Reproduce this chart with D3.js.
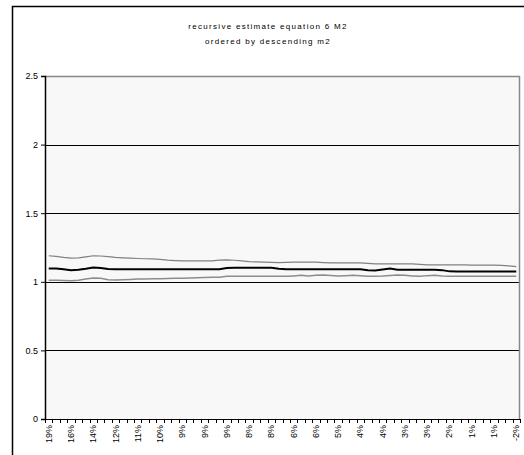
<!DOCTYPE html>
<html><head><meta charset="utf-8">
<script src="https://cdn.jsdelivr.net/npm/d3@7"></script>
<style>body{margin:0;background:#fff;font-family:"Liberation Sans",Arial,sans-serif;}</style>
</head><body><svg id="c" width="524" height="455"></svg>
<script>
const titleLines = ["recursive estimate equation 6 M2", "ordered by descending m2"];
const tickLabels = ["19%","16%","14%","12%","11%","10%","9%","9%","9%","8%","8%","6%","6%","5%","4%","4%","3%","3%","2%","1%","1%","-2%"];
const yTicks = [0, 0.5, 1, 1.5, 2, 2.5];
const upper = [1.19,1.185,1.178,1.173,1.175,1.182,1.19,1.188,1.183,1.178,1.175,1.172,1.17,1.168,1.167,1.163,1.158,1.155,1.153,1.153,1.153,1.153,1.153,1.158,1.16,1.157,1.152,1.147,1.145,1.143,1.142,1.14,1.142,1.143,1.143,1.143,1.143,1.14,1.138,1.138,1.138,1.138,1.138,1.135,1.131,1.131,1.131,1.131,1.131,1.131,1.127,1.124,1.124,1.124,1.124,1.124,1.124,1.122,1.122,1.122,1.122,1.12,1.116,1.111];
const middle = [1.097,1.097,1.092,1.085,1.088,1.095,1.104,1.1,1.093,1.092,1.092,1.092,1.092,1.092,1.092,1.092,1.092,1.092,1.092,1.092,1.092,1.092,1.092,1.092,1.1,1.102,1.102,1.102,1.102,1.102,1.102,1.095,1.092,1.092,1.092,1.092,1.092,1.092,1.092,1.092,1.092,1.092,1.092,1.085,1.083,1.09,1.097,1.088,1.087,1.087,1.087,1.087,1.087,1.085,1.076,1.075,1.075,1.075,1.075,1.075,1.075,1.075,1.075,1.075];
const lower = [1.012,1.012,1.01,1.008,1.012,1.02,1.027,1.025,1.015,1.013,1.015,1.017,1.02,1.021,1.022,1.023,1.024,1.025,1.026,1.027,1.029,1.031,1.033,1.034,1.04,1.041,1.041,1.041,1.041,1.041,1.041,1.04,1.04,1.043,1.047,1.043,1.048,1.05,1.046,1.043,1.045,1.048,1.044,1.04,1.04,1.042,1.046,1.05,1.047,1.043,1.04,1.045,1.047,1.042,1.04,1.04,1.04,1.04,1.04,1.04,1.04,1.04,1.04,1.04];

const svg = d3.select("#c");
const L = 45, R = 520, T = 76, B = 419;
const n = upper.length;
const idx = d3.range(n);
const x = d3.scaleBand().domain(idx).range([L, R]);
const y = d3.scaleLinear().domain([0, 2.5]).range([B, T]);

// outer chart border
svg.append("rect").attr("x", 12.5).attr("y", 6.5).attr("width", 530).attr("height", 470)
  .attr("fill", "#fff").attr("stroke", "#000").attr("stroke-width", 1.5);

// titles
svg.selectAll("text.title").data(titleLines).enter().append("text")
  .attr("class", "title").attr("x", 268).attr("y", (d, i) => 29 + i * 15)
  .attr("text-anchor", "middle").attr("font-size", 8).attr("letter-spacing", 1.3)
  .attr("fill", "#000").text(d => d);

// plot background
svg.append("rect").attr("x", L).attr("y", T).attr("width", R - L).attr("height", B - T)
  .attr("fill", "#f8f8f8");

// gridlines
svg.append("g").selectAll("line").data(yTicks.filter(v => v > 0 && v < 2.5)).enter().append("line")
  .attr("x1", L).attr("x2", R).attr("y1", d => Math.round(y(d)) + 0.5).attr("y2", d => Math.round(y(d)) + 0.5)
  .attr("stroke", "#000").attr("stroke-width", 1);

// plot border top / right (gray)
svg.append("path").attr("d", `M${L},${T + 0.5}H${R - 0.5}V${B}`).attr("fill", "none")
  .attr("stroke", "#888").attr("stroke-width", 1.5);

// y axis
const yAxis = d3.axisLeft(y).tickValues(yTicks).tickSize(4).tickPadding(3)
  .tickFormat(d => d === 0 ? "0" : String(d));
const gy = svg.append("g").attr("transform", `translate(${L},0)`).call(yAxis);
gy.select(".domain").attr("stroke", "#000").attr("stroke-width", 1.5);
gy.selectAll("text").attr("font-size", 9).attr("font-family", "Liberation Sans, Arial, sans-serif").attr("fill", "#000");

// x axis with ticks between categories
const xTickScale = d3.scaleLinear().domain([0, n]).range([L, R]);
const gx = svg.append("g").attr("transform", `translate(0,${B})`);
gx.append("line").attr("x1", L).attr("x2", R).attr("y1", 0.5).attr("y2", 0.5).attr("stroke", "#000").attr("stroke-width", 1.2);
gx.selectAll("line.tk").data(d3.range(n + 1)).enter().append("line").attr("class", "tk")
  .attr("x1", d => Math.round(xTickScale(d)) + 0.5).attr("x2", d => Math.round(xTickScale(d)) + 0.5)
  .attr("y1", 0).attr("y2", 4).attr("stroke", "#000");
gx.selectAll("text").data(tickLabels).enter().append("text")
  .attr("transform", (d, i) => `translate(${x(i * 3) + x.bandwidth() / 2 + 3},6) rotate(-90)`)
  .attr("text-anchor", "end").attr("font-size", 9).attr("fill", "#000").text(d => d);

// lines
const line = d3.line().x((d, i) => x(i) + x.bandwidth() / 2).y(d => y(d));
svg.append("path").datum(upper).attr("d", line).attr("fill", "none").attr("stroke", "#808080").attr("stroke-width", 1.2);
svg.append("path").datum(lower).attr("d", line).attr("fill", "none").attr("stroke", "#8c8c8c").attr("stroke-width", 1.5);
svg.append("path").datum(middle).attr("d", line).attr("fill", "none").attr("stroke", "#000").attr("stroke-width", 2);
</script></body></html>
